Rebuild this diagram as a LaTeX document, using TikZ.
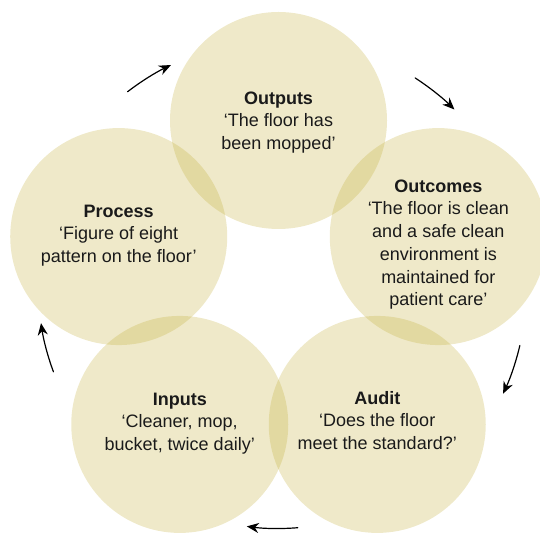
\documentclass[tikz,border=0pt]{standalone}
\usepackage{fontspec}
\setmainfont{Liberation Sans}
\usetikzlibrary{arrows.meta}
\definecolor{bubblegold}{RGB}{190,168,40}
\definecolor{inktext}{RGB}{26,26,26}
\begin{document}
\begin{tikzpicture}[x=1pt, y=1pt, font=\fontsize{18}{22.7}\selectfont, line join=round, line cap=round, >={Stealth[length=12pt,width=10pt]},
	bubble/.style={circle, minimum size=217pt, inner sep=0pt, fill=bubblegold, fill opacity=0.25},
	caption/.style={text=inktext, align=center, inner sep=0pt}]
	%%Frame and ring sizes
	\useasboundingbox (0,0) rectangle (540,532);
	\def \rcen{168}
	\coordinate (ctr) at (278.5,243.5);
	%%The five circles
	\node[bubble] (outputs) at ([shift={(90:\rcen)}]ctr) {};
	\node[bubble] (outcomes) at ([shift={(18:\rcen)}]ctr) {};
	\node[bubble] (audit) at ([shift={(-54:\rcen)}]ctr) {};
	\node[bubble] (inputs) at ([shift={(-126:\rcen)}]ctr) {};
	\node[bubble] (process) at ([shift={(162:\rcen)}]ctr) {};
	%%Texts in the circles
	\node[caption] (outputs-txt) at ([yshift=-2pt]outputs) {\textbf{Outputs}\\‘The floor has\\been mopped’};
	\node[caption] (outcomes-txt) at ([yshift=-8pt]outcomes) {\textbf{Outcomes}\\‘The floor is clean\\and a safe clean\\environment is\\maintained for\\patient care’};
	\node[caption] (audit-txt) at ([yshift=4pt]audit) {\textbf{Audit}\\‘Does the floor\\meet the standard?’};
	\node[caption] (inputs-txt) at ([yshift=1pt]inputs) {\textbf{Inputs}\\‘Cleaner, mop,\\bucket, twice daily’};
	\node[caption] (process-txt) at ([yshift=1pt]process) {\textbf{Process}\\‘Figure of eight\\pattern on the floor’};
	%%Arrows round the ring
	\foreach \a/\b/\r in {127.5/115.7/248, 57/45.5/251, -13.3/-25.1/248, -85.4/-97.6/240, -159.7/-171.7/240}
	\draw[->, line width=1.2pt] ([shift={(\a:\r)}]ctr) arc (\a:\b:\r);
\end{tikzpicture}
\end{document}
